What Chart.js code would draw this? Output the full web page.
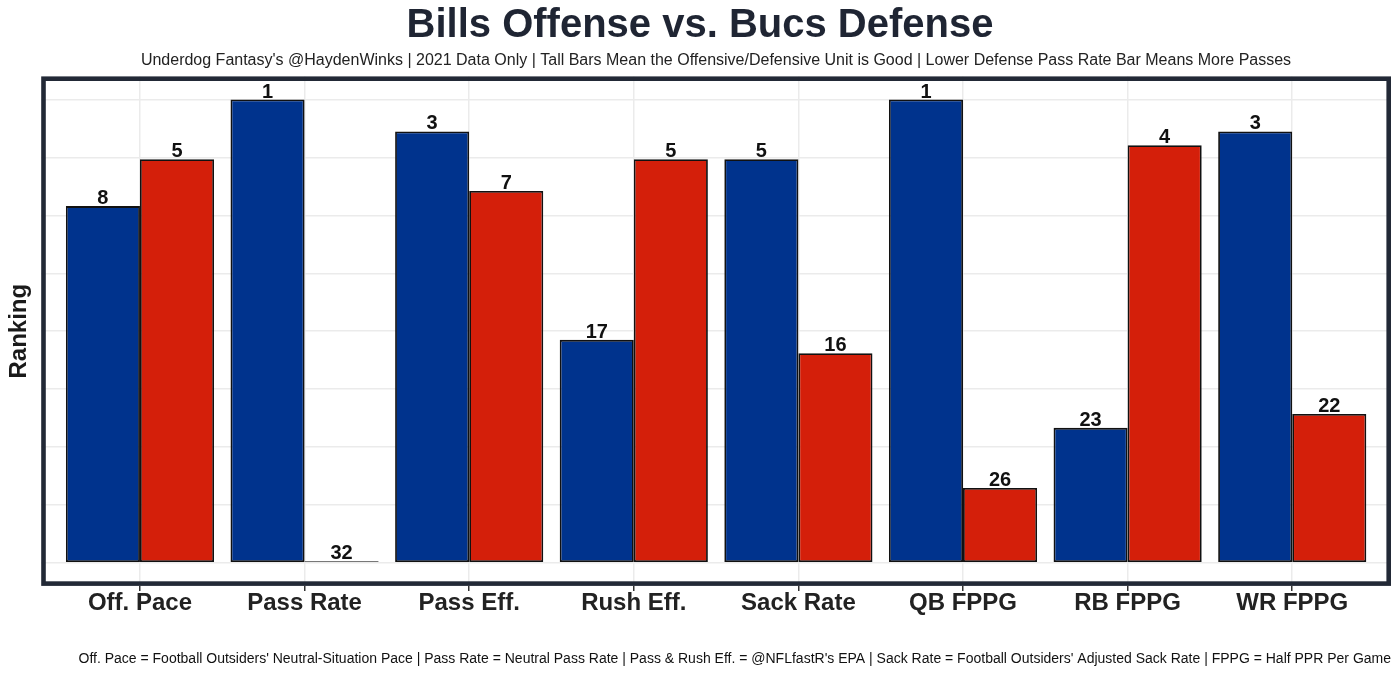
<!DOCTYPE html>
<html>
<head>
<meta charset="utf-8">
<script src="https://cdn.jsdelivr.net/npm/chart.js@4.4.1/dist/chart.umd.min.js"></script>
<style>
  html, body { margin: 0; padding: 0; background: #ffffff; }
  #wrap { width: 1400px; height: 674px; position: relative; }
</style>
</head>
<body>
<div id="wrap"><canvas id="c" width="1400" height="674"></canvas></div>
<script>
// ---- data ----
const categories = ["Off. Pace", "Pass Rate", "Pass Eff.", "Rush Eff.", "Sack Rate", "QB FPPG", "RB FPPG", "WR FPPG"];
const billsValues = [6.16, 8.00, 7.45, 3.85, 6.97, 8.00, 2.33, 7.45];
const bucsValues  = [6.97, 0.025, 6.42, 6.97, 3.62, 1.29, 7.21, 2.57];
const billsRanks  = [8, 1, 3, 17, 5, 1, 23, 3];
const bucsRanks   = [5, 32, 7, 5, 16, 26, 4, 22];
const titleText = "Bills Offense vs. Bucs Defense";
const subtitleText = "Underdog Fantasy's @HaydenWinks | 2021 Data Only | Tall Bars Mean the Offensive/Defensive Unit is Good | Lower Defense Pass Rate Bar Means More Passes";
const captionText = "Off. Pace = Football Outsiders' Neutral-Situation Pace | Pass Rate = Neutral Pass Rate | Pass & Rush Eff. = @NFLfastR's EPA | Sack Rate = Football Outsiders' Adjusted Sack Rate | FPPG = Half PPR Per Game";
const yAxisTitle = "Ranking";

const BLUE = "#00338D";
const RED = "#D41F0A";
const FONT = "'Liberation Sans', Arial, Helvetica, sans-serif";
const GRID = "#ebebeb";

const isInt = v => Math.abs(v - Math.round(v)) < 1e-6;

const headerPlugin = {
  id: "header",
  afterDraw(chart) {
    const ctx = chart.ctx;
    ctx.save();
    ctx.textAlign = "center";
    ctx.textBaseline = "alphabetic";
    ctx.fillStyle = "#1f2533";
    ctx.font = "bold 40px " + FONT;
    ctx.fillText(titleText, 700, 36.5);
    ctx.fillStyle = "#222222";
    ctx.font = "16px " + FONT;
    ctx.fillText(subtitleText, 716, 64.5);
    ctx.restore();
  }
};

const rankLabelPlugin = {
  id: "rankLabels",
  afterDatasetsDraw(chart) {
    const ctx = chart.ctx;
    const ranks = [billsRanks, bucsRanks];
    ctx.save();
    ctx.font = "bold 20px " + FONT;
    ctx.fillStyle = "#111111";
    ctx.textAlign = "center";
    ctx.textBaseline = "alphabetic";
    chart.data.datasets.forEach((ds, di) => {
      const meta = chart.getDatasetMeta(di);
      meta.data.forEach((bar, i) => {
        ctx.fillText(String(ranks[di][i]), bar.x, bar.y - 2);
      });
    });
    ctx.restore();
  }
};

const panelBorderPlugin = {
  id: "panelBorder",
  afterDraw(chart) {
    const a = chart.chartArea;
    const ctx = chart.ctx;
    const lw = 4.6;
    ctx.save();
    ctx.strokeStyle = "#222936";
    ctx.lineWidth = lw;
    ctx.strokeRect(a.left + lw / 2, a.top + lw / 2, a.right - a.left - lw, a.bottom - a.top - lw);
    ctx.restore();
  }
};

new Chart(document.getElementById("c"), {
  type: "bar",
  data: {
    datasets: [
      {
        label: "Bills Offense",
        data: categories.map((c, i) => ({ x: i, y: billsValues[i] })),
        backgroundColor: BLUE,
        borderColor: "#111111",
        borderWidth: 1.8,
        borderSkipped: false
      },
      {
        label: "Bucs Defense",
        data: categories.map((c, i) => ({ x: i, y: bucsValues[i] })),
        backgroundColor: RED,
        borderColor: "#111111",
        borderWidth: 1.8,
        borderSkipped: false
      }
    ]
  },
  options: {
    responsive: false,
    animation: false,
    devicePixelRatio: 1,
    categoryPercentage: 0.9,
    barPercentage: 1.0,
    layout: { padding: { left: 0, right: 9, top: 76.4, bottom: 0 } },
    plugins: {
      legend: { display: false },
      tooltip: { enabled: false },
      title: { display: false },
      subtitle: { display: false }
    },
    scales: {
      x: {
        type: "linear",
        min: -0.6,
        max: 7.6,
        offset: false,
        border: { display: false },
        afterBuildTicks: s => { s.ticks = s.ticks.filter(t => isInt(t.value)); },
        grid: {
          offset: false,
          color: GRID,
          lineWidth: 1.5,
          drawTicks: true,
          tickLength: 5,
          tickWidth: 1.5,
          tickColor: "#333333"
        },
        ticks: {
          stepSize: 1,
          autoSkip: false,
          maxRotation: 0,
          padding: 0,
          color: "#222222",
          font: { family: FONT, size: 24, weight: "bold", lineHeight: 1.0 },
          callback: v => (isInt(v) && categories[Math.round(v)] !== undefined ? categories[Math.round(v)] : "")
        },
        title: {
          display: true,
          text: captionText,
          align: "end",
          color: "#111111",
          font: { family: FONT, size: 14, lineHeight: 1.2 },
          padding: { top: 0, bottom: 6.5 }
        },
        afterFit: s => { s.height = 88.1; }
      },
      y: {
        min: -0.4,
        max: 8.4,
        border: { display: false },
        afterBuildTicks: s => { s.ticks = s.ticks.filter(t => isInt(t.value)); },
        grid: {
          color: GRID,
          lineWidth: 1.5,
          drawTicks: false
        },
        ticks: { display: false, stepSize: 1 },
        title: {
          display: true,
          text: yAxisTitle,
          color: "#1a1a1a",
          font: { family: FONT, size: 24, weight: "bold", lineHeight: 1.2 },
          padding: { top: 5, bottom: 0 }
        },
        afterFit: s => { s.width = 41.2; }
      }
    }
  },
  plugins: [rankLabelPlugin, panelBorderPlugin, headerPlugin]
});
</script>
</body>
</html>
